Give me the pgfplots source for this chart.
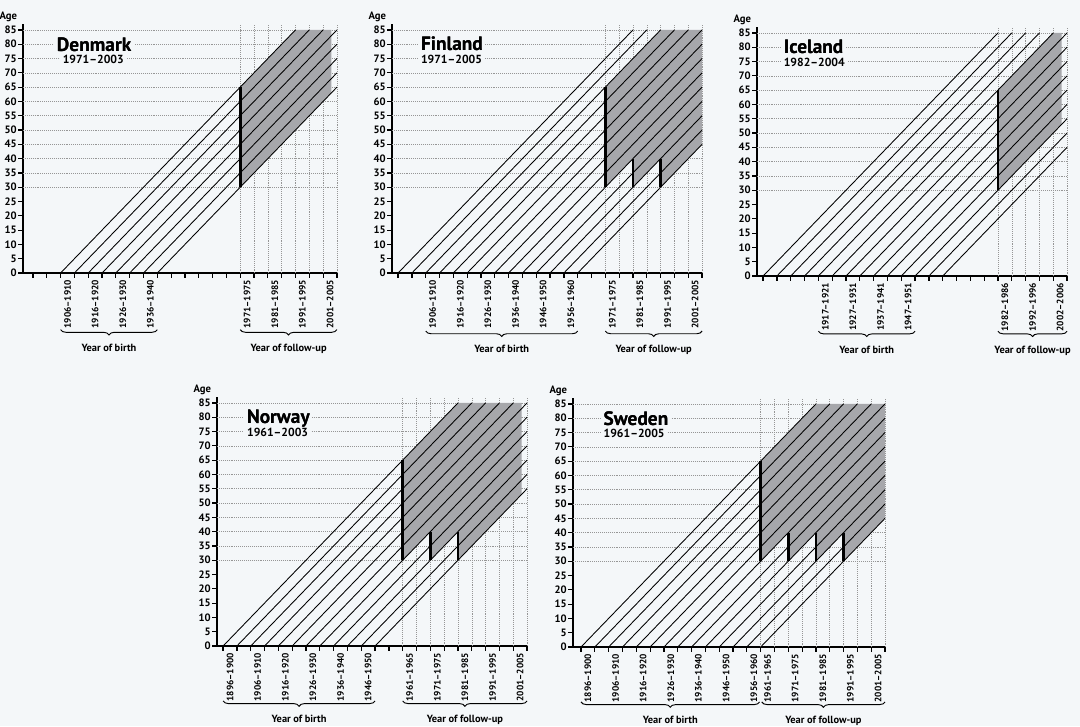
\documentclass[border=0pt]{standalone}
\usepackage{pgfplots}
\pgfplotsset{compat=1.18}
\usepackage{fontspec}
\setmainfont{PT Sans}
\usetikzlibrary{decorations.pathreplacing}

\definecolor{bg}{RGB}{244,247,249}
\definecolor{shade}{RGB}{166,167,171}
\definecolor{gridc}{RGB}{150,150,150}

\pgfplotsset{
  lexis/.style={
    x=2.0727pt, y=2.145pt, ymin=0, ymax=87, clip=false,
    anchor=south west,
    axis lines*=left,
    axis line style={line width=1.1pt},
    tick align=outside, major tick length=3.5pt,
    tick style={black, line width=0.9pt},
    ytick={0,5,...,85},
    /pgf/number format/assume math mode=true,
    yticklabel style={font=\bfseries\fontsize{8}{9}\selectfont, inner sep=1pt},
    x tick label as interval,
    xticklabel style={rotate=90, anchor=east, font=\bfseries\fontsize{7}{8}\selectfont, inner sep=1.5pt},
  },
  cohort/.style={black, line width=0.65pt},
  entry/.style={black, line width=2pt},
  grd/.style={gridc, densely dotted, line width=0.45pt},
}
\tikzset{
  ttl/.style={anchor=base west, fill=bg, inner sep=2pt, xshift=-2pt, font=\bfseries\fontsize{14.5}{15}\selectfont},
  sub/.style={anchor=base west, fill=bg, inner sep=2pt, xshift=-2pt, font=\bfseries\fontsize{8.8}{10}\selectfont},
  agel/.style={anchor=base east, xshift=-1pt, yshift=3.5pt, font=\bfseries\fontsize{8}{9}\selectfont},
  brc/.style={decorate, decoration={brace, mirror, amplitude=4pt}, line width=0.7pt},
  brl/.style={anchor=north, inner sep=0pt, yshift=-10.5pt, font=\bfseries\fontsize{7.8}{8}\selectfont},
}
% country name and period, with a cleared patch of background behind them
\newcommand\paneltitle[5]{%
  \node[ttl] at (axis cs:#1,#2) {#5};
  \node[sub] at (axis cs:#3,#2-4.4) {#4};
  \node[ttl, fill=none] at (axis cs:#1,#2) {#5};
}

\begin{document}
\begin{tikzpicture}
\fill[bg] (0,0) rectangle (810pt,-544.5pt);
\useasboundingbox (0,0) rectangle (810pt,-544.5pt);

% ---------------- Denmark ----------------
\begin{axis}[lexis, at={(17.25pt,-204.75pt)}, xmin=1892.4, xmax=2006,
  xtick={1896,1901,...,2006},
  xticklabels={,,1906--1910,,1916--1920,,1926--1930,,1936--1940,,,,,,,1971--1975,,1981--1985,,1991--1995,,2001--2005,}]
\pgfplotsinvokeforeach{30,35,...,85}{\addplot[grd] coordinates {(1892.4,#1) (2006,#1)};}
\pgfplotsinvokeforeach{1971,1976,...,2006}{\addplot[grd] coordinates {(#1,0) (#1,87)};}
\addplot[fill=shade, draw=none] coordinates {(1971,30) (1971,65) (1991,85) (2004,85) (2004,63)} -- cycle;
\addplot[cohort] coordinates {(1906,0) (1991,85)};
\addplot[cohort] coordinates {(1911,0) (1996,85)};
\addplot[cohort] coordinates {(1916,0) (2001,85)};
\addplot[cohort] coordinates {(1921,0) (2006,85)};
\addplot[cohort] coordinates {(1926,0) (2006,80)};
\addplot[cohort] coordinates {(1931,0) (2006,75)};
\addplot[cohort] coordinates {(1936,0) (2006,70)};
\addplot[cohort] coordinates {(1941,0) (2006,65)};
\addplot[entry] coordinates {(1971,30) (1971,65)};
\paneltitle{1904.6}{77.5}{1906.7}{1971--2003}{Denmark}
\node[agel] at (rel axis cs:0,1) {Age};
\draw[brc] (axis cs:1906,-19.8) -- (axis cs:1941,-19.8) node[brl, midway] {Year of birth};
\draw[brc] (axis cs:1971,-19.8) -- (axis cs:2006,-19.8) node[brl, midway] {Year of follow-up};
\end{axis}

% ---------------- Finland ----------------
\begin{axis}[lexis, at={(294pt,-204.75pt)}, xmin=1893.8, xmax=2006,
  xtick={1896,1901,...,2006},
  xticklabels={,,1906--1910,,1916--1920,,1926--1930,,1936--1940,,1946--1950,,1956--1960,,,1971--1975,,1981--1985,,1991--1995,,2001--2005,}]
\pgfplotsinvokeforeach{30,35,...,85}{\addplot[grd] coordinates {(1893.8,#1) (2006,#1)};}
\pgfplotsinvokeforeach{1971,1976,...,2006}{\addplot[grd] coordinates {(#1,0) (#1,87)};}
\addplot[fill=shade, draw=none] coordinates {(1971,30) (1971,65) (1991,85) (2006,85) (2006,45) (1991,30) (1991,40) (1981,30) (1981,40)} -- cycle;
\addplot[cohort] coordinates {(1896,0) (1981,85)};
\addplot[cohort] coordinates {(1901,0) (1986,85)};
\addplot[cohort] coordinates {(1906,0) (1991,85)};
\addplot[cohort] coordinates {(1911,0) (1996,85)};
\addplot[cohort] coordinates {(1916,0) (2001,85)};
\addplot[cohort] coordinates {(1921,0) (2006,85)};
\addplot[cohort] coordinates {(1926,0) (2006,80)};
\addplot[cohort] coordinates {(1931,0) (2006,75)};
\addplot[cohort] coordinates {(1936,0) (2006,70)};
\addplot[cohort] coordinates {(1941,0) (2006,65)};
\addplot[cohort] coordinates {(1946,0) (2006,60)};
\addplot[cohort] coordinates {(1951,0) (2006,55)};
\addplot[cohort] coordinates {(1956,0) (2006,50)};
\addplot[cohort] coordinates {(1961,0) (2006,45)};
\addplot[entry] coordinates {(1971,30) (1971,65)};
\addplot[entry] coordinates {(1981,30) (1981,40)};
\addplot[entry] coordinates {(1991,30) (1991,40)};
\paneltitle{1904.2}{77.8}{1904.2}{1971--2005}{Finland}
\node[agel] at (rel axis cs:0,1) {Age};
\draw[brc] (axis cs:1906,-20.3) -- (axis cs:1961,-20.3) node[brl, midway] {Year of birth};
\draw[brc] (axis cs:1971,-20.3) -- (axis cs:2006,-20.3) node[brl, midway] {Year of follow-up};
\end{axis}

% ---------------- Iceland ----------------
\begin{axis}[lexis, at={(567.75pt,-207pt)}, xmin=1894.8, xmax=2007,
  xtick={1897,1902,...,2007},
  xticklabels={,,,,1917--1921,,1927--1931,,1937--1941,,1947--1951,,,,,,,1982--1986,,1992--1996,,2002--2006,}]
\pgfplotsinvokeforeach{30,35,...,85}{\addplot[grd] coordinates {(1894.8,#1) (2007,#1)};}
\pgfplotsinvokeforeach{1982,1987,...,2007}{\addplot[grd] coordinates {(#1,0) (#1,87)};}
\addplot[fill=shade, draw=none] coordinates {(1982,30) (1982,65) (2002,85) (2005,85) (2005,53)} -- cycle;
\addplot[cohort] coordinates {(1897,0) (1982,85)};
\addplot[cohort] coordinates {(1902,0) (1987,85)};
\addplot[cohort] coordinates {(1907,0) (1992,85)};
\addplot[cohort] coordinates {(1912,0) (1997,85)};
\addplot[cohort] coordinates {(1917,0) (2002,85)};
\addplot[cohort] coordinates {(1922,0) (2007,85)};
\addplot[cohort] coordinates {(1927,0) (2007,80)};
\addplot[cohort] coordinates {(1932,0) (2007,75)};
\addplot[cohort] coordinates {(1937,0) (2007,70)};
\addplot[cohort] coordinates {(1942,0) (2007,65)};
\addplot[cohort] coordinates {(1947,0) (2007,60)};
\addplot[cohort] coordinates {(1952,0) (2007,55)};
\addplot[cohort] coordinates {(1957,0) (2007,50)};
\addplot[cohort] coordinates {(1962,0) (2007,45)};
\addplot[entry] coordinates {(1982,30) (1982,65)};
\paneltitle{1904.4}{77.8}{1904.4}{1982--2004}{Iceland}
\node[agel] at (rel axis cs:0,1) {Age};
\draw[brc] (axis cs:1917,-19.3) -- (axis cs:1952,-19.3) node[brl, midway] {Year of birth};
\draw[brc] (axis cs:1982,-19.3) -- (axis cs:2007,-19.3) node[brl, midway] {Year of follow-up};
\end{axis}

% ---------------- Norway ----------------
\begin{axis}[lexis, at={(162.75pt,-484.5pt)}, xmin=1893.8, xmax=2006,
  xtick={1896,1901,...,2006},
  xticklabels={1896--1900,,1906--1910,,1916--1920,,1926--1930,,1936--1940,,1946--1950,,,1961--1965,,1971--1975,,1981--1985,,1991--1995,,2001--2005,}]
\pgfplotsinvokeforeach{30,35,...,85}{\addplot[grd] coordinates {(1893.8,#1) (2006,#1)};}
\pgfplotsinvokeforeach{1961,1966,...,2006}{\addplot[grd] coordinates {(#1,0) (#1,87)};}
\addplot[fill=shade, draw=none] coordinates {(1961,30) (1961,65) (1981,85) (2004,85) (2004,53) (1981,30) (1981,40) (1971,30) (1971,40)} -- cycle;
\addplot[cohort] coordinates {(1896,0) (1981,85)};
\addplot[cohort] coordinates {(1901,0) (1986,85)};
\addplot[cohort] coordinates {(1906,0) (1991,85)};
\addplot[cohort] coordinates {(1911,0) (1996,85)};
\addplot[cohort] coordinates {(1916,0) (2001,85)};
\addplot[cohort] coordinates {(1921,0) (2006,85)};
\addplot[cohort] coordinates {(1926,0) (2006,80)};
\addplot[cohort] coordinates {(1931,0) (2006,75)};
\addplot[cohort] coordinates {(1936,0) (2006,70)};
\addplot[cohort] coordinates {(1941,0) (2006,65)};
\addplot[cohort] coordinates {(1946,0) (2006,60)};
\addplot[cohort] coordinates {(1951,0) (2006,55)};
\addplot[entry] coordinates {(1961,30) (1961,65)};
\addplot[entry] coordinates {(1971,30) (1971,40)};
\addplot[entry] coordinates {(1981,30) (1981,40)};
\paneltitle{1904.6}{77.7}{1904.6}{1961--2003}{Norway}
\node[agel] at (rel axis cs:0,1) {Age};
\draw[brc] (axis cs:1896,-19.2) -- (axis cs:1951,-19.2) node[brl, midway] {Year of birth};
\draw[brc] (axis cs:1961,-19.2) -- (axis cs:2006,-19.2) node[brl, midway] {Year of follow-up};
\end{axis}

% ---------------- Sweden ----------------
\begin{axis}[lexis, at={(429.75pt,-485.25pt)}, xmin=1893.1, xmax=2006,
  xtick={1896,1901,...,2006},
  xticklabels={1896--1900,,1906--1910,,1916--1920,,1926--1930,,1936--1940,,1946--1950,,1956--1960,1961--1965,,1971--1975,,1981--1985,,1991--1995,,2001--2005,}]
\pgfplotsinvokeforeach{30,35,...,85}{\addplot[grd] coordinates {(1893.1,#1) (2006,#1)};}
\pgfplotsinvokeforeach{1961,1966,...,2006}{\addplot[grd] coordinates {(#1,0) (#1,87)};}
\addplot[fill=shade, draw=none] coordinates {(1961,30) (1961,65) (1981,85) (2006,85) (2006,45) (1991,30) (1991,40) (1981,30) (1981,40) (1971,30) (1971,40)} -- cycle;
\addplot[cohort] coordinates {(1896,0) (1981,85)};
\addplot[cohort] coordinates {(1901,0) (1986,85)};
\addplot[cohort] coordinates {(1906,0) (1991,85)};
\addplot[cohort] coordinates {(1911,0) (1996,85)};
\addplot[cohort] coordinates {(1916,0) (2001,85)};
\addplot[cohort] coordinates {(1921,0) (2006,85)};
\addplot[cohort] coordinates {(1926,0) (2006,80)};
\addplot[cohort] coordinates {(1931,0) (2006,75)};
\addplot[cohort] coordinates {(1936,0) (2006,70)};
\addplot[cohort] coordinates {(1941,0) (2006,65)};
\addplot[cohort] coordinates {(1946,0) (2006,60)};
\addplot[cohort] coordinates {(1951,0) (2006,55)};
\addplot[cohort] coordinates {(1956,0) (2006,50)};
\addplot[cohort] coordinates {(1961,0) (2006,45)};
\addplot[entry] coordinates {(1961,30) (1961,65)};
\addplot[entry] coordinates {(1971,30) (1971,40)};
\addplot[entry] coordinates {(1981,30) (1981,40)};
\addplot[entry] coordinates {(1991,30) (1991,40)};
\paneltitle{1904.1}{77.6}{1904.1}{1961--2005}{Sweden}
\node[agel] at (rel axis cs:0,1) {Age};
\draw[brc] (axis cs:1896,-19.2) -- (axis cs:1960.6,-19.2) node[brl, midway] {Year of birth};
\draw[brc] (axis cs:1961.4,-19.2) -- (axis cs:2006,-19.2) node[brl, midway] {Year of follow-up};
\end{axis}
\end{tikzpicture}
\end{document}
